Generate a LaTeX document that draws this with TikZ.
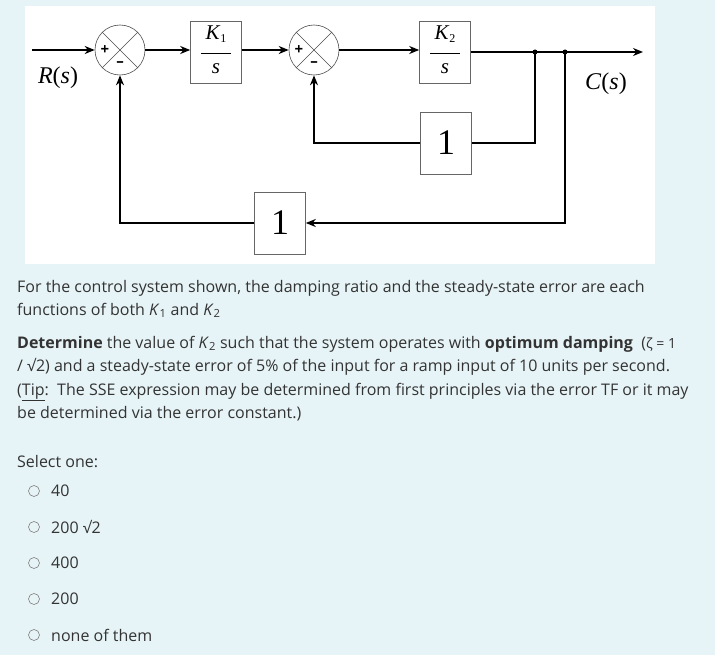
\documentclass[tikz,border=0pt]{standalone}
\usepackage{fontspec}
\setmainfont{Open Sans}
\newfontfamily\blkfont{Liberation Serif}
\usetikzlibrary{positioning,arrows.meta}
\definecolor{pagebg}{HTML}{E7F4F7}
\definecolor{txt}{HTML}{333333}
\tikzset{
  blk/.style={draw=black!60,line width=0.6pt,fill=white,minimum width=51pt,minimum height=62pt,inner sep=0pt},
  sumj/.style={draw=black!70,line width=0.6pt,circle,minimum size=50pt,inner sep=0pt},
  sig/.style={line width=1.7pt,-{Stealth[length=10pt,width=8pt]}},
  wire/.style={line width=1.7pt},
  qtext/.style={anchor=base west,inner sep=0pt,text=txt,font=\fontsize{16}{18}\selectfont},
  radio/.style={circle,draw=black!50,line width=0.6pt,minimum size=11pt,inner sep=0pt}
}
\newcommand{\gainfrac}[1]{\blkfont\fontsize{21}{21}\selectfont
  \begin{tabular}{@{}c@{}}\textit{K}\raisebox{-3pt}{\fontsize{12}{12}\selectfont#1}\\[-6pt]\rule{30pt}{0.8pt}\\[-2pt]\textit{s}\end{tabular}}
\begin{document}
\begin{tikzpicture}[x=1pt,y=-1pt]
  \fill[pagebg] (0,0) rectangle (715,655);
  \fill[white] (25,6) rectangle (655,264);
  % forward path
  \node[sumj] (s1) at (120,50) {};
  \node[blk] (g1) at (216,52) {\gainfrac{1}};
  \node[sumj] (s2) at (314,50) {};
  \node[blk] (g2) at (445,52) {\gainfrac{2}};
  \node[blk,font=\blkfont\fontsize{36}{36}\selectfont] (h2) at (446,143) {1};
  \node[blk,font=\blkfont\fontsize{36}{36}\selectfont] (h1) at (280,223) {1};
  \foreach \s in {s1,s2}{
    \draw[black!70,line width=0.6pt] (\s.north west) -- (\s.south east) (\s.north east) -- (\s.south west);
    \node[font=\bfseries\fontsize{15}{15}\selectfont] at ([xshift=-15pt]\s.center) {+};
    \node[font=\bfseries\fontsize{15}{15}\selectfont] at ([yshift=-14pt]\s.center) {--};
  }
  \coordinate (in) at (32,50);
  \coordinate (d1) at (535,52);
  \coordinate (d2) at (565,52);
  \coordinate (out) at (643,52);
  \draw[sig] (in) -- (s1);
  \draw[sig] (s1) -- (g1.west |- s1);
  \draw[sig] (g1.east |- s2) -- (s2);
  \draw[sig] (s2) -- (g2.west |- s2);
  \draw[sig] (g2.east) -- (out);
  \fill (d1) circle (2.5pt) (d2) circle (2.5pt);
  % feedback paths
  \draw[wire] (d1) |- (h2.east);
  \draw[sig] (h2.west) -| (s2.south);
  \draw[sig] (d2) |- (h1.east);
  \draw[sig] (h1.west) -| (s1.south);
  \node[font=\blkfont\fontsize{24}{24}\selectfont] (rs) at (58,78) {\textit{R}(\textit{s})};
  \node[font=\blkfont\fontsize{24}{24}\selectfont] (cs) at (606,84) {\textit{C}(\textit{s})};
  % question text
  \node[qtext] (q1) at (17,292) {For the control system shown, the damping ratio and the steady-state error are each};
  \node[qtext] (q2) at (17,315) {functions of both \textit{K}\textsubscript{1} and \textit{K}\textsubscript{2}};
  \node[qtext] (q3) at (17,348) {\textbf{Determine} the value of \textit{K}\textsubscript{2} such that the system operates with \textbf{optimum damping}\ \ ({\fontsize{14}{14}\selectfont ζ = 1}};
  \node[qtext] (q4) at (17,371) {/ √2) and a steady-state error of 5\% of the input for a ramp input of 10 units per second.};
  \node[qtext] (q5) at (17,395) {(\underline{Tip}:\ \ The SSE expression may be determined from first principles via the error TF or it may};
  \node[qtext] (q6) at (17,418) {be determined via the error constant.)};
  \node[qtext] (sel) at (17,467) {Select one:};
  \foreach \lab [count=\i] in {40,200 √2,400,200,none of them}{
    \node[radio] (r\i) at (34,{455+36*\i}) {};
    \node[qtext,anchor=west] (o\i) at (51,{455+36*\i}) {\lab};
  }
\end{tikzpicture}
\end{document}
